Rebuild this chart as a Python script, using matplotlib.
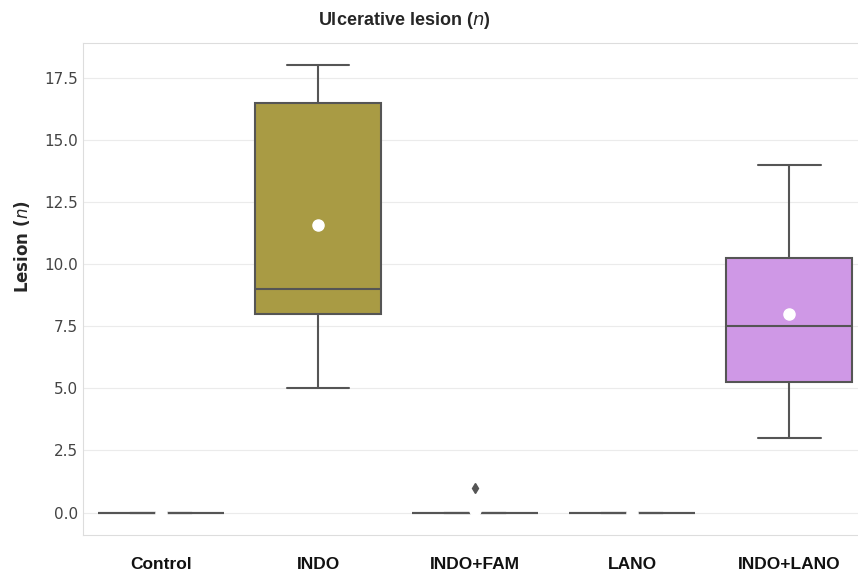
import matplotlib
matplotlib.use("Agg")
import matplotlib.pyplot as plt
import pandas as pd
import seaborn as sns

# lesion counts per group
GROUPS = ["Control", "INDO", "INDO+FAM", "LANO", "INDO+LANO"]
control = [0, 0, 0, 0, 0, 0, 0, 0]
indo = [5, 8, 8, 9, 16, 17, 18]
indo_fam = [0, 0, 0, 0, 0, 0, 0, 1]
lano = [0, 0, 0, 0, 0, 0, 0, 0]
indo_lano = [3, 3, 6, 7, 8, 9, 14, 14]
COLORS = ["#8fb5d6", "#a99b44", "#6fbf8f", "#e8a070", "#cf98e6"]

values = [control, indo, indo_fam, lano, indo_lano]
df = pd.DataFrame({
    "group": [g for g, v in zip(GROUPS, values) for _ in v],
    "lesion": [x for v in values for x in v],
})

sns.set_style("whitegrid")
plt.rcParams["font.family"] = ["DejaVu Sans"]
narrow = ["Liberation Sans Narrow", "Liberation Sans", "DejaVu Sans"]

fig = plt.figure(figsize=(8.58, 5.79), dpi=100)
ax = fig.add_axes([0.0962, 0.076, 0.915, 0.850])

sns.boxplot(data=df, x="group", y="lesion", order=GROUPS, hue="group",
            palette=COLORS, saturation=1, width=0.8, linewidth=1.5,
            linecolor="#555555", showmeans=True, legend=False, ax=ax,
            meanprops=dict(marker="o", markerfacecolor="white",
                           markeredgecolor="white", markersize=8),
            flierprops=dict(marker="d", markersize=5,
                            markerfacecolor="#555555",
                            markeredgecolor="#555555"))

for sp in ax.spines.values():
    sp.set_color("#dddddd")
ax.grid(axis="y", color="#ebebeb")
ax.grid(axis="x", visible=False)
ax.set_xlim(-0.5, 4.5)

ax.set_xlabel("")
ax.set_ylabel("Lesion ($\\it{n}$)", fontsize=12, fontweight="bold")
ax.yaxis.set_label_coords(-0.064, 0.585)
ax.tick_params(axis="y", labelsize=11, labelcolor="#444444", length=0)
ax.tick_params(axis="x", length=0, pad=16)
ax.set_xticks(range(len(GROUPS)))
ax.set_xticklabels(GROUPS, family=narrow, fontweight="bold", fontsize=12.5,
                   color="#111111")

fig.text(0.471, 0.965, "Ulcerative lesion ($\\it{n}$)", ha="center", va="center",
         family=narrow, fontweight="bold", fontsize=13)

fig.savefig("out.png", dpi=100)
